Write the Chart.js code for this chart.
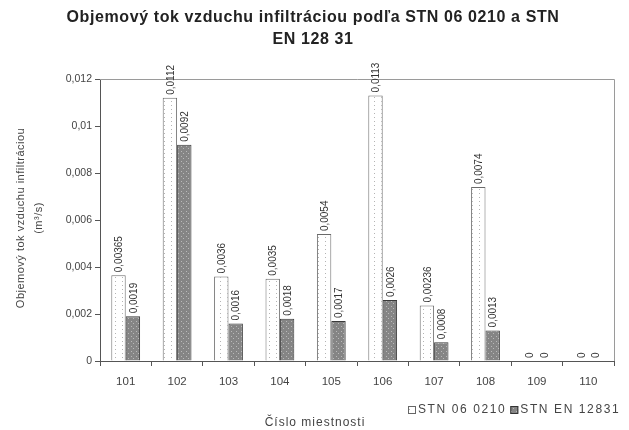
<!DOCTYPE html>
<html>
<head>
<meta charset="utf-8">
<script src="https://cdn.jsdelivr.net/npm/chart.js@4.4.1/dist/chart.umd.min.js"></script>
<style>
  html, body { margin: 0; padding: 0; background: #fff; }
  #wrap { width: 629px; height: 430px; position: relative; }
</style>
</head>
<body>
<div id="wrap"><canvas id="c" width="629" height="430"></canvas></div>
<script>
// Room numbers
const rooms = ['101', '102', '103', '104', '105', '106', '107', '108', '109', '110'];
// Infiltration air flow (m3/s) per STN 06 0210
const stn060210 = [0.00365, 0.0112, 0.0036, 0.0035, 0.0054, 0.0113, 0.00236, 0.0074, 0, 0];
// Infiltration air flow (m3/s) per STN EN 12831
const stnEn12831 = [0.0019, 0.0092, 0.0016, 0.0018, 0.0017, 0.0026, 0.0008, 0.0013, 0, 0];
// Y axis tick labels (Slovak decimal comma)
const yTickLabels = ['0', '0,002', '0,004', '0,006', '0,008', '0,01', '0,012'];

const seriesNames = ['STN 06 0210', 'STN EN 12831'];
const titleLines = ['Objemový tok vzduchu infiltráciou podľa STN 06 0210 a STN', 'EN 128 31'];
const yTitleLines = ['Objemový tok vzduchu infiltráciou', '(m³/s)'];
const xTitle = 'Číslo miestnosti';

const FONT = '"Liberation Sans", Arial, sans-serif';

function makePattern(bg, dot, w, h, pts) {
  const c = document.createElement('canvas');
  c.width = w; c.height = h;
  const g = c.getContext('2d');
  g.fillStyle = bg; g.fillRect(0, 0, w, h);
  g.fillStyle = dot;
  pts.forEach(p => g.fillRect(p[0], p[1], 1, 1));
  return g.createPattern(c, 'repeat');
}

const ctx0 = document.getElementById('c').getContext('2d');
const lightFill = makePattern('#ffffff', '#b4b4b4', 7, 4, [[3, 1]]);
const darkFill = makePattern('#858585', '#b9b9b9', 5, 5, [[1, 1], [3, 3]]);

// Value labels, rotated, above each bar
const valueLabels = {
  id: 'valueLabels',
  afterDatasetsDraw(chart) {
    const ctx = chart.ctx;
    ctx.save();
    ctx.font = '10px ' + FONT;
    ctx.fillStyle = '#333';
    ctx.textAlign = 'left';
    ctx.textBaseline = 'middle';
    chart.data.datasets.forEach((ds, di) => {
      const meta = chart.getDatasetMeta(di);
      meta.data.forEach((el, i) => {
        const v = ds.data[i];
        const txt = String(v).replace('.', ',');
        ctx.save();
        ctx.translate(el.x + 1, el.y - 3);
        ctx.rotate(-Math.PI / 2);
        ctx.fillText(txt, 0, 0);
        ctx.restore();
      });
    });
    ctx.restore();
  }
};

// Plot frame, titles and legend
const decor = {
  id: 'decor',
  beforeDatasetsDraw(chart) {
    const { ctx, chartArea: a } = chart;
    ctx.save();
    ctx.strokeStyle = '#9a9a9a';
    ctx.lineWidth = 1;
    ctx.beginPath();
    ctx.moveTo(a.left, a.top + 0.5);
    ctx.lineTo(a.right + 0.5, a.top + 0.5);
    ctx.lineTo(a.right + 0.5, a.bottom);
    ctx.stroke();
    ctx.restore();
  },
  afterDraw(chart) {
    const { ctx } = chart;
    ctx.save();
    // chart title
    ctx.fillStyle = '#222';
    ctx.font = 'bold 16px ' + FONT;
    ctx.letterSpacing = '0.6px';
    ctx.textAlign = 'center';
    ctx.textBaseline = 'middle';
    ctx.fillText(titleLines[0], 313, 18);
    ctx.fillText(titleLines[1], 313, 40);
    // y axis title
    ctx.font = '11px ' + FONT;
    ctx.letterSpacing = '0.5px';
    ctx.fillStyle = '#444';
    ctx.save();
    ctx.translate(21, 218);
    ctx.rotate(-Math.PI / 2);
    ctx.fillText(yTitleLines[0], 0, 0);
    ctx.fillText(yTitleLines[1], 0, 18);
    ctx.restore();
    // x axis title
    ctx.font = '12px ' + FONT;
    ctx.letterSpacing = '1px';
    ctx.fillText(xTitle, 315, 423);
    // legend
    ctx.textAlign = 'left';
    ctx.font = '12px ' + FONT;
    ctx.letterSpacing = '1.6px';
    const fills = [lightFill, darkFill];
    const borders = ['#666', '#333'];
    let x = 408;
    const y = 410;
    seriesNames.forEach((name, i) => {
      ctx.fillStyle = fills[i];
      ctx.fillRect(x, y - 4, 8, 8);
      ctx.strokeStyle = borders[i];
      ctx.strokeRect(x + 0.5, y - 3.5, 7, 7);
      ctx.fillStyle = '#444';
      ctx.fillText(name, x + 10, y);
      x += 10 + ctx.measureText(name).width + 4;
    });
    ctx.restore();
  }
};

new Chart(ctx0, {
  type: 'bar',
  data: {
    labels: rooms,
    datasets: [
      { label: seriesNames[0], data: stn060210, backgroundColor: lightFill, borderColor: '#6a6a6a', borderWidth: 1 },
      { label: seriesNames[1], data: stnEn12831, backgroundColor: darkFill, borderColor: '#3a3a3a', borderWidth: 1 }
    ]
  },
  options: {
    responsive: false,
    animation: false,
    events: [],
    layout: { padding: { left: 0, top: 79, right: 15, bottom: 0 } },
    datasets: { bar: { categoryPercentage: 0.56, barPercentage: 1.0 } },
    plugins: { legend: { display: false }, title: { display: false }, tooltip: { enabled: false } },
    scales: {
      x: {
        afterFit(s) { s.height = 69; },
        grid: { display: true, drawOnChartArea: false, drawTicks: true, tickLength: 5, offset: true, color: '#555' },
        border: { display: true, color: '#555', width: 1 },
        ticks: { color: '#444', font: { family: FONT, size: 11.5 }, padding: 9, maxRotation: 0 }
      },
      y: {
        min: 0, max: 0.012,
        afterFit(s) { s.width = 100; },
        grid: { display: true, drawOnChartArea: false, drawTicks: true, tickLength: 5, color: '#555' },
        border: { display: true, color: '#555', width: 1 },
        ticks: {
          stepSize: 0.002,
          color: '#444',
          font: { family: FONT, size: 10.5 },
          padding: 3,
          callback(v, i) { return yTickLabels[i]; }
        }
      }
    }
  },
  plugins: [decor, valueLabels]
});
</script>
</body>
</html>
